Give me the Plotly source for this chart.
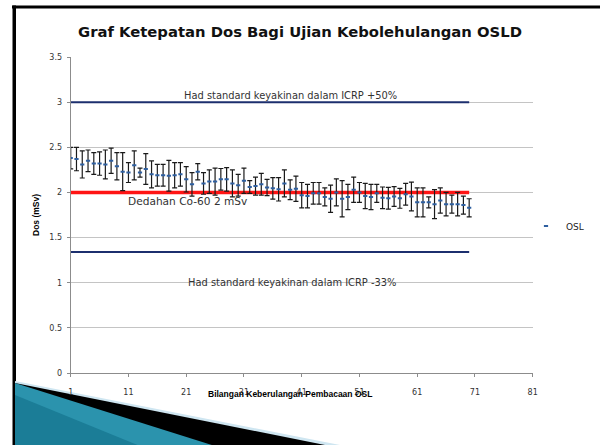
import plotly.graph_objects as go

# ---------------- data ----------------
reading_no = list(range(1, 71))
dose_msv = [2.38, 2.37, 2.31, 2.35, 2.32, 2.32, 2.31, 2.35, 2.29, 2.23,
            2.22, 2.30, 2.22, 2.26, 2.20, 2.19, 2.19, 2.185, 2.19, 2.20,
            2.145, 2.09, 2.23, 2.10, 2.12, 2.12, 2.145, 2.145, 2.10, 2.08,
            2.13, 2.06, 2.07, 2.09, 2.055, 2.045, 2.035, 2.10, 2.03, 2.04,
            1.97, 1.96, 1.99, 1.99, 1.95, 1.93, 2.00, 1.93, 1.95, 2.03,
            2.00, 1.96, 1.95, 1.99, 1.94, 1.935, 1.955, 1.935, 1.98, 1.955,
            1.89, 1.89, 1.89, 1.87, 1.91, 1.87, 1.87, 1.87, 1.86, 1.83]
dose_err = [0.12, 0.13, 0.15, 0.12, 0.12, 0.13, 0.16, 0.14, 0.15, 0.21,
            0.11, 0.16, 0.05, 0.17, 0.15, 0.12, 0.12, 0.17, 0.14, 0.13,
            0.14, 0.13, 0.09, 0.12, 0.13, 0.15, 0.12, 0.13, 0.15, 0.12,
            0.14, 0.07, 0.10, 0.12, 0.09, 0.12, 0.13, 0.15, 0.11, 0.14,
            0.14, 0.13, 0.12, 0.12, 0.10, 0.15, 0.15, 0.20, 0.14, 0.14,
            0.11, 0.14, 0.14, 0.10, 0.12, 0.12, 0.11, 0.11, 0.12, 0.16,
            0.16, 0.16, 0.06, 0.16, 0.14, 0.13, 0.10, 0.13, 0.10, 0.10]
exposure_dose = 2.0          # Co-60 2 mSv
upper_limit = 3.0            # ICRP +50%
lower_limit = 1.34           # ICRP -33%
x_ticks = [1, 11, 21, 31, 41, 51, 61, 71, 81]

W, H = 600, 445
def px(x): return x / W
def py(y): return 1 - y / H

fig = go.Figure()

line_x = [reading_no[0], reading_no[-1]]
fig.add_trace(go.Scatter(x=line_x, y=[upper_limit] * 2, mode="lines",
                         line=dict(color="#1c2f6e", width=2), showlegend=False, hoverinfo="skip"))
fig.add_trace(go.Scatter(x=line_x, y=[lower_limit] * 2, mode="lines",
                         line=dict(color="#1c2f6e", width=2), showlegend=False, hoverinfo="skip"))
fig.add_trace(go.Scatter(x=line_x, y=[exposure_dose] * 2, mode="lines",
                         line=dict(color="#ff1414", width=3.5), showlegend=False, hoverinfo="skip"))
fig.add_trace(go.Scatter(
    x=reading_no, y=dose_msv, mode="markers", name="OSL",
    marker=dict(symbol="line-ew", size=3, line=dict(width=2, color="#2e5fa0"), color="#2e5fa0"),
    error_y=dict(type="data", array=dose_err, visible=True, color="#1a1a1a", thickness=1.2, width=2.5),
))

font_main = "DejaVu Sans"
annotations = [
    dict(text="<b>Graf Ketepatan Dos Bagi Ujian Kebolehulangan OSLD</b>", x=px(300), y=py(31),
         font=dict(size=14.8, color="#111", family=font_main)),
    dict(text="Had standard keyakinan dalam ICRP +50%", x=px(290), y=py(96),
         font=dict(size=9.9, color="#333", family=font_main)),
    dict(text="Dedahan Co-60 2 mSv", x=px(187), y=py(201),
         font=dict(size=10.6, color="#333", family=font_main)),
    dict(text="Had standard keyakinan dalam ICRP -33%", x=px(292), y=py(282),
         font=dict(size=9.9, color="#333", family=font_main)),
    dict(text="<b>Bilangan Keberulangan Pembacaan OSL</b>", x=px(290), y=py(394),
         font=dict(size=8.5, color="#000", family="Liberation Sans")),
    dict(text="<b>Dos (mSv)</b>", x=px(36), y=py(215), textangle=-90,
         font=dict(size=8.5, color="#000", family="Liberation Sans")),
]
for a in annotations:
    a.update(xref="paper", yref="paper", showarrow=False, xanchor="center", yanchor="middle")

shapes = [
    # slide frame
    dict(type="rect", x0=px(12), x1=px(601), y0=py(5.5), y1=py(8.5),
         fillcolor="#000", line=dict(width=0)),
    dict(type="rect", x0=px(12.5), x1=px(16), y0=py(5.5), y1=py(446),
         fillcolor="#000", line=dict(width=0)),
    # decorative wedge
    dict(type="path", path=f"M {px(15)},{py(381)} L {px(345)},{py(446)} L {px(15)},{py(446)} Z",
         fillcolor="#cfe6f1", line=dict(width=0)),
    dict(type="path", path=f"M {px(15)},{py(383)} L {px(330)},{py(446)} L {px(15)},{py(446)} Z",
         fillcolor="#000", line=dict(width=0)),
    dict(type="path", path=f"M {px(15)},{py(383)} L {px(215)},{py(446)} L {px(15)},{py(446)} Z",
         fillcolor="#2b93ad", line=dict(width=0)),
    dict(type="path", path=f"M {px(15)},{py(395)} L {px(140)},{py(446)} L {px(15)},{py(446)} Z",
         fillcolor="#1b7d97", line=dict(width=0)),
]
for s in shapes:
    s.update(xref="paper", yref="paper", layer="below")

fig.update_layout(
    width=W, height=H,
    margin=dict(l=0, r=0, t=0, b=0),
    paper_bgcolor="white", plot_bgcolor="white",
    annotations=annotations, shapes=shapes,
    showlegend=True,
    legend=dict(x=px(526), y=py(226), xanchor="left", yanchor="middle",
                font=dict(size=9, color="#222", family=font_main),
                bgcolor="rgba(0,0,0,0)", itemwidth=30),
    xaxis=dict(domain=[px(70.7), px(532.7)], range=[1, 81], tickvals=x_ticks,
               showgrid=False, zeroline=False, showline=True, linecolor="#8c8c8c", linewidth=1,
               ticks="outside", ticklen=3, tickcolor="#8c8c8c",
               tickfont=dict(size=8, color="#333", family=font_main), ticklabelstandoff=8,
               automargin=False),
    yaxis=dict(domain=[py(373), py(57)], range=[0, 3.5], dtick=0.5,
               showgrid=True, gridcolor="#c4c4c4", gridwidth=1, zeroline=False,
               showline=True, linecolor="#8c8c8c", linewidth=1,
               ticks="outside", ticklen=3, tickcolor="#8c8c8c",
               tickfont=dict(size=8, color="#333", family=font_main), ticklabelstandoff=3,
               automargin=False),
)

fig.write_html("out.html", config={"displayModeBar": False},
               post_script="document.body.style.margin='0';")
